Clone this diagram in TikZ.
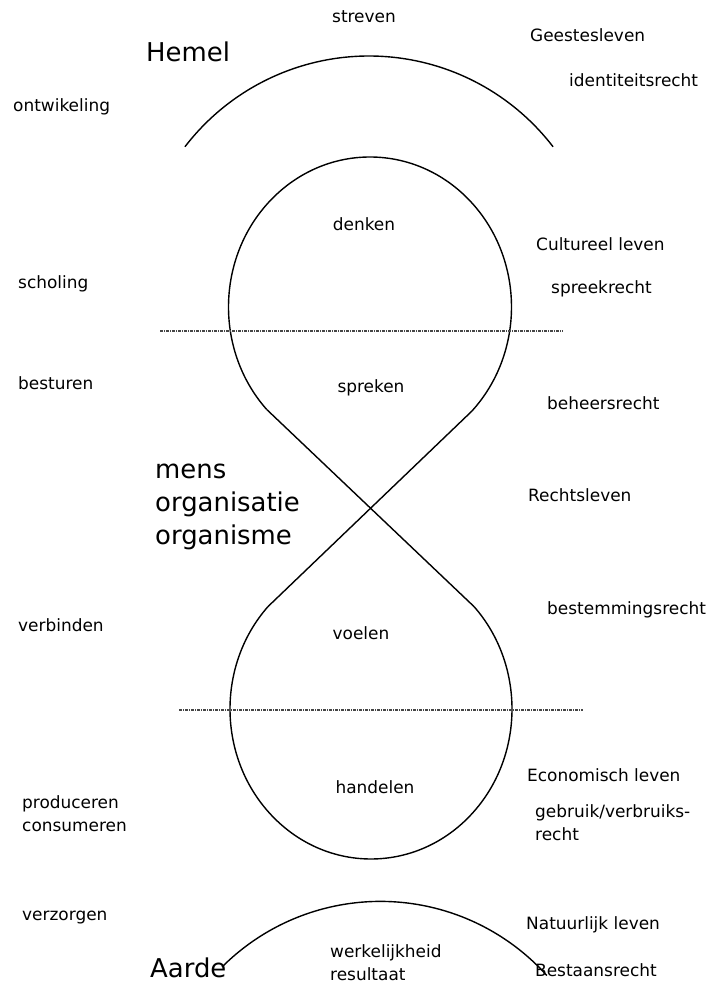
\documentclass[tikz,border=0pt]{standalone}
\usepackage{fontspec}
\setmainfont{DejaVu Sans}
\usetikzlibrary{calc}

\begin{document}
\begin{tikzpicture}[
		x=1bp, y=1bp,
		klein/.style={inner sep=0pt, anchor=west, align=left, font=\fontsize{17}{23}\selectfont},
		midden/.style={inner sep=0pt, font=\fontsize{17}{23}\selectfont},
		groot/.style={inner sep=0pt, anchor=west, align=left, font=\fontsize{26}{33}\selectfont},
		lijn/.style={line width=1.4bp},
		scheiding/.style={line width=1.3bp, gray!55!black, dash pattern=on 3bp off 1bp on 1bp off 1bp},
		]
		\useasboundingbox (0,0) rectangle (712,983);
		
		% Middelpunten
		\coordinate (HemelM) at (369,695);
		\coordinate (Boven) at (370,676);
		\coordinate (Onder) at (371,274);
		\coordinate (AardeL) at (222,16);
		
		% Aansluitpunten van de acht
		\coordinate (BovenL) at ($(Boven)+(223:141.5 and 150)$);
		\coordinate (BovenR) at ($(Boven)+(-44:141.5 and 150)$);
		\coordinate (OnderL) at ($(Onder)+(137:141 and 150)$);
		\coordinate (OnderR) at ($(Onder)+(43:141 and 150)$);
		
		% Bogen en lussen
		\draw[lijn] ($(HemelM)+(142.5:232)$) arc[start angle=142.5, end angle=37.5, radius=232];
		\draw[lijn] (BovenL) arc[start angle=223, end angle=-44, x radius=141.5, y radius=150];
		\draw[lijn] (OnderL) arc[start angle=137, end angle=403, x radius=141, y radius=150];
		\draw[lijn] (AardeL) arc[start angle=135, end angle=42, radius=224];
		\draw[lijn] (BovenL) -- (OnderR);
		\draw[lijn] (BovenR) -- (OnderL);
		
		% Scheidingslijnen
		\coordinate (S1a) at (160,652);
		\coordinate (S1b) at (563,652);
		\coordinate (S2a) at (179,273);
		\coordinate (S2b) at (583,273);
		\draw[scheiding] (S1a) -- (S1b);
		\draw[scheiding] (S2a) -- (S2b);
		
		% Groot
		\node[groot] (Hemel) at (146,931) {Hemel};
		\node[groot] (Mens) at (155,476) {mens\\organisatie\\organisme};
		\node[groot] (Aarde) at (150,15) {Aarde};
		
		% Midden
		\node[midden] (streven) at (364,966) {streven};
		\node[midden] (denken) at (364,759) {denken};
		\node[midden] (spreken) at (371,595) {spreken};
		\node[midden] (voelen) at (361,350) {voelen};
		\node[midden] (handelen) at (375,196) {handelen};
		\node[klein] (werkelijkheid) at (330,20) {werkelijkheid\\resultaat};
		
		% Links
		\node[klein] (ontwikeling) at (13,876) {ontwikeling};
		\node[klein] (scholing) at (18,699) {scholing};
		\node[klein] (besturen) at (18,600) {besturen};
		\node[klein] (verbinden) at (18,358) {verbinden};
		\node[klein] (produceren) at (22,169) {produceren\\consumeren};
		\node[klein] (verzorgen) at (22,65) {verzorgen};
		
		% Rechts
		\node[klein] (Geestesleven) at (530,948) {Geestesleven};
		\node[klein] (identiteitsrecht) at (569,903) {identiteitsrecht};
		\node[klein] (Cultureel) at (536,739) {Cultureel leven};
		\node[klein] (spreekrecht) at (551,694) {spreekrecht};
		\node[klein] (beheersrecht) at (547,580) {beheersrecht};
		\node[klein] (Rechtsleven) at (528,488) {Rechtsleven};
		\node[klein] (bestemmingsrecht) at (547,373) {bestemmingsrecht};
		\node[klein] (Economisch) at (527,208) {Economisch leven};
		\node[klein] (gebruik) at (535,160) {gebruik/verbruiks-\\recht};
		\node[klein] (Natuurlijk) at (526,58) {Natuurlijk leven};
		\node[klein] (Bestaansrecht) at (535,13) {Bestaansrecht};
		
	\end{tikzpicture}
\end{document}
